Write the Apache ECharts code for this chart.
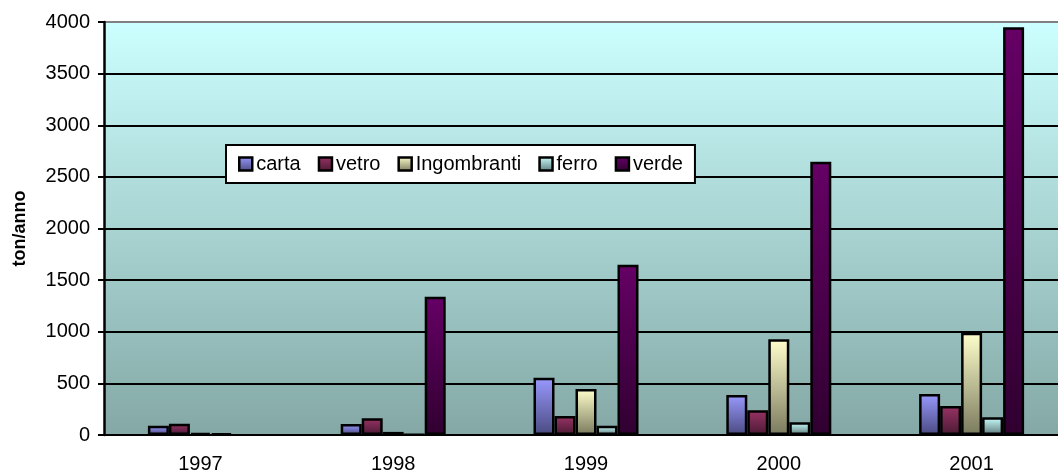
<!DOCTYPE html>
<html lang="it">
<head>
    <meta charset="UTF-8"/>
    <title>Raccolta differenziata</title>
    <script src="https://cdn.jsdelivr.net/npm/echarts@6/dist/echarts.min.js"></script>
    <style>
        body { margin: 0; background: #fff; }
        #chart { width: 1058px; height: 474px; }
    </style>
</head>
<body>
<div id="chart"></div>
<script>
    const years = ['1997', '1998', '1999', '2000', '2001'];
    const carta = [90, 106, 555, 387, 397];
    const vetro = [110, 162, 184, 239, 281];
    const ingombranti = [20, 30, 445, 927, 991];
    const ferro = [15, 5, 90, 123, 171];
    const verde = [null, 1340, 1650, 2647, 3948];

    function grad(top, bottom) {
        return new echarts.graphic.LinearGradient(0, 0, 0, 1, [
            {offset: 0, color: top},
            {offset: 1, color: bottom}
        ]);
    }

    function bar(name, data, top, bottom) {
        return {
            name: name,
            type: 'bar',
            data: data,
            barWidth: 21,
            barGap: '0%',
            itemStyle: {color: grad(top, bottom), borderColor: '#000', borderWidth: 2.5}
        };
    }

    const chart = echarts.init(document.getElementById('chart'));
    chart.setOption({
        animation: false,
        textStyle: {fontFamily: 'Arial, Liberation Sans, sans-serif', color: '#000'},
        grid: {
            left: 104, right: -10, top: 22, bottom: 39,
            outerBoundsMode: 'none',
            show: true,
            borderWidth: 0,
            backgroundColor: grad('#ccffff', '#84a8a5')
        },
        legend: {
            left: 226, top: 145,
            padding: [9, 12],
            itemGap: 17,
            itemWidth: 13,
            itemHeight: 13,
            icon: 'rect',
            backgroundColor: '#fff',
            borderColor: '#000',
            borderWidth: 2,
            itemStyle: {borderColor: '#000', borderWidth: 2.5},
            textStyle: {fontSize: 20, color: '#000', padding: [0, 0, 0, -1]}
        },
        xAxis: {
            type: 'category',
            data: years,
            axisLine: {lineStyle: {color: '#000', width: 2}},
            axisTick: {length: 6, lineStyle: {color: '#000', width: 2}},
            axisLabel: {fontSize: 20, color: '#000', margin: 19}
        },
        yAxis: {
            type: 'value',
            min: 0, max: 4000, interval: 500,
            name: 'ton/anno',
            nameLocation: 'middle',
            nameGap: 75,
            nameTextStyle: {fontSize: 18, fontWeight: 'bold', color: '#000'},
            axisLine: {show: true, lineStyle: {color: '#000', width: 2.5}},
            axisTick: {show: true, length: 6, lineStyle: {color: '#000', width: 2}},
            axisLabel: {
                fontSize: 20, color: '#000', margin: 14,
                formatter: function (v) { return String(v); }
            },
            splitLine: {
                lineStyle: {
                    color: ['#000', '#000', '#000', '#000', '#000', '#000', '#000', '#000', '#808080'],
                    width: 2
                }
            }
        },
        series: [
            bar('carta', carta, '#9999ff', '#4a4a80'),
            bar('vetro', vetro, '#993366', '#4a1a33'),
            bar('Ingombranti', ingombranti, '#ffffcc', '#7a7a5e'),
            bar('ferro', ferro, '#ccffff', '#5e7a7a'),
            bar('verde', verde, '#660066', '#300030')
        ]
    });
</script>
</body>
</html>
